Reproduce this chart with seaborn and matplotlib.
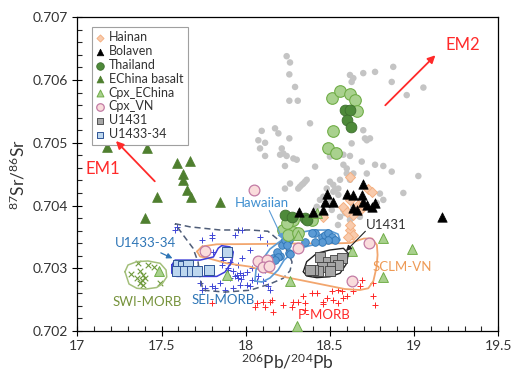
import numpy as np
import pandas as pd
import matplotlib
matplotlib.use("Agg")
import matplotlib.pyplot as plt
import seaborn as sns
from matplotlib.ticker import MultipleLocator, FuncFormatter

# ---------------- data ----------------
gray_x = [18.243, 18.263, 18.259, 18.293, 18.259, 18.309, 18.382, 18.174, 18.194, 18.095,
          18.075, 18.115, 18.085, 18.115, 18.259, 18.214, 18.223, 18.204, 18.243, 18.283,
          18.303, 18.233, 18.412, 18.619, 18.639, 18.629, 18.698, 18.768, 18.876, 18.867,
          18.956, 19.055, 18.698, 18.708, 18.719, 18.738, 18.629, 18.619, 18.689, 18.768,
          18.817, 18.867, 18.719, 18.580, 18.600, 18.600, 18.639, 19.025, 18.936, 18.500,
          18.520, 18.530, 18.550, 18.362, 18.342, 18.322, 18.263, 18.233, 18.500, 18.580,
          18.511, 18.619, 18.797, 18.817, 18.441, 18.461, 18.481, 18.352, 18.333, 18.520,
          18.600, 18.778, 18.748, 18.639, 18.619, 18.500, 18.580, 18.590, 18.312, 18.560,
          18.550, 18.580, 18.560, 18.511, 18.471, 18.422, 18.619, 18.678, 18.548]
gray_y = [0.70638, 0.70628, 0.70609, 0.70589, 0.70567, 0.70567, 0.70531, 0.70523, 0.70515, 0.70519,
          0.70504, 0.70500, 0.70491, 0.70479, 0.70507, 0.70491, 0.70483, 0.70481, 0.70479, 0.70475,
          0.70473, 0.70463, 0.70462, 0.70608, 0.70603, 0.70597, 0.70611, 0.70613, 0.70621, 0.70597,
          0.70576, 0.70588, 0.70520, 0.70507, 0.70504, 0.70507, 0.70499, 0.70479, 0.70470, 0.70465,
          0.70463, 0.70454, 0.70451, 0.70465, 0.70459, 0.70451, 0.70451, 0.70447, 0.70420, 0.70438,
          0.70433, 0.70425, 0.70427, 0.70441, 0.70435, 0.70430, 0.70435, 0.70427, 0.70478, 0.70481,
          0.70486, 0.70441, 0.70419, 0.70409, 0.70409, 0.70414, 0.70427, 0.70438, 0.70433, 0.70422,
          0.70414, 0.70404, 0.70396, 0.70398, 0.70390, 0.70404, 0.70396, 0.70388, 0.70427, 0.70441,
          0.70417, 0.70393, 0.70382, 0.70393, 0.70385, 0.70398, 0.70377, 0.70382, 0.70369]

lgreen_x = [18.511, 18.560, 18.619, 18.649, 18.663, 18.520, 18.491, 18.536,
            18.283, 18.223, 18.283, 18.253, 18.312, 18.392, 18.243]
lgreen_y = [0.70571, 0.70583, 0.70578, 0.70568, 0.70550, 0.70518, 0.70491, 0.70484,
            0.70377, 0.70361, 0.70358, 0.70353, 0.70356, 0.70377, 0.70372]

thai_x = [18.590, 18.619, 18.603, 18.625, 18.233, 18.273, 18.352, 18.362]
thai_y = [0.70552, 0.70553, 0.70536, 0.70525, 0.70385, 0.70382, 0.70380, 0.70377]

echina_x = [17.175, 17.416, 17.594, 17.669, 17.626, 17.626, 17.653, 17.673, 17.471, 17.847, 17.402]
echina_y = [0.70494, 0.70491, 0.70467, 0.70471, 0.70451, 0.70440, 0.70425, 0.70414, 0.70414, 0.70406, 0.70380]

cpxe_x = [18.817, 18.986, 18.629, 18.817, 18.263, 18.303, 17.483, 17.887, 18.422, 18.312]
cpxe_y = [0.70349, 0.70330, 0.70328, 0.70286, 0.70279, 0.70208, 0.70296, 0.70289, 0.70388, 0.70353]

bolaven_x = [18.698, 18.600, 18.639, 18.689, 18.481, 18.471, 18.520, 18.698, 18.719, 18.768,
             18.748, 18.639, 18.401, 18.461, 18.659, 18.318, 19.164]
bolaven_y = [0.70435, 0.70419, 0.70417, 0.70417, 0.70419, 0.70406, 0.70406, 0.70406, 0.70401, 0.70404,
             0.70398, 0.70396, 0.70390, 0.70393, 0.70393, 0.70390, 0.70382]

hainan_x = [18.619, 18.728, 18.748, 18.619, 18.669, 18.678, 18.639, 18.580, 18.600, 18.619,
            18.639, 18.610, 18.461, 18.619, 18.689]
hainan_y = [0.70446, 0.70427, 0.70422, 0.70409, 0.70401, 0.70393, 0.70385, 0.70397, 0.70390, 0.70361,
            0.70353, 0.70350, 0.70382, 0.70369, 0.70401]

cpxvn_x = [18.049, 17.758, 18.075, 18.125, 18.105, 18.140, 18.312, 18.734, 18.629]
cpxvn_y = [0.70424, 0.70327, 0.70311, 0.70313, 0.70302, 0.70304, 0.70332, 0.70341, 0.70280]

haw_x = [18.412, 18.451, 18.471, 18.491, 18.511, 18.530, 18.491, 18.451, 18.412, 18.352,
         18.259, 18.259, 18.204, 18.164, 18.184, 18.214, 18.233, 18.194, 18.243, 18.174,
         18.263, 18.392]
haw_y = [0.70356, 0.70350, 0.70353, 0.70356, 0.70350, 0.70345, 0.70345, 0.70342, 0.70342, 0.70342,
         0.70345, 0.70324, 0.70320, 0.70316, 0.70326, 0.70337, 0.70345, 0.70318, 0.70337, 0.70313,
         0.70322, 0.70356]

u1431_x = [18.441, 18.491, 18.530, 18.570, 18.550, 18.500, 18.451, 18.431, 18.500, 18.401, 18.382]
u1431_y = [0.70318, 0.70310, 0.70313, 0.70316, 0.70305, 0.70302, 0.70302, 0.70295, 0.70295, 0.70298, 0.70297]

u1433_x = [17.600, 17.630, 17.659, 17.590, 17.640, 17.679, 17.709, 17.784, 17.887]
u1433_y = [0.70305, 0.70303, 0.70305, 0.70295, 0.70295, 0.70296, 0.70296, 0.70297, 0.70326]

swi_x = [17.317, 17.372, 17.422, 17.455, 17.353, 17.382, 17.402, 17.372, 17.392, 17.491, 17.362, 17.392]
swi_y = [0.70291, 0.70295, 0.70305, 0.70302, 0.70284, 0.70281, 0.70284, 0.70276, 0.70273, 0.70276, 0.70308, 0.70289]

sei_x = [17.739, 17.798, 17.956, 18.026, 17.976, 18.036, 17.925, 17.947, 17.966, 17.986,
         18.006, 17.956, 17.907, 17.937, 17.895, 17.972, 17.857, 17.897, 17.907, 17.857,
         17.729, 17.758, 17.798, 17.847, 17.877, 17.926, 17.966, 18.026, 18.065, 17.580,
         17.798, 17.937, 17.976, 18.125, 17.956, 18.036, 18.075, 18.115, 18.105, 18.006,
         17.818, 17.739, 18.144, 18.134, 17.808, 17.867, 17.709, 17.739, 17.590, 18.085]
sei_y = [0.70345, 0.70348, 0.70361, 0.70329, 0.70316, 0.70300, 0.70295, 0.70289, 0.70292, 0.70290,
         0.70294, 0.70284, 0.70284, 0.70287, 0.70297, 0.70283, 0.70305, 0.70300, 0.70310, 0.70318,
         0.70276, 0.70268, 0.70271, 0.70276, 0.70265, 0.70268, 0.70273, 0.70271, 0.70279, 0.70361,
         0.70353, 0.70353, 0.70361, 0.70340, 0.70305, 0.70281, 0.70287, 0.70297, 0.70279, 0.70273,
         0.70268, 0.70265, 0.70265, 0.70271, 0.70326, 0.70313, 0.70300, 0.70332, 0.70366, 0.70350]

pmorb_x = [18.392, 18.422, 18.511, 18.550, 18.570, 18.600, 18.639, 18.678, 18.754, 18.758,
           18.768, 18.481, 18.461, 18.461, 18.520, 18.550, 18.580, 18.342, 18.312, 18.352,
           18.283, 18.273, 18.223, 18.144, 18.154, 18.105, 18.115, 18.065, 18.164, 18.352,
           17.798, 18.055, 18.693, 18.648]
pmorb_y = [0.70260, 0.70261, 0.70263, 0.70265, 0.70263, 0.70255, 0.70263, 0.70271, 0.70276, 0.70255,
           0.70241, 0.70252, 0.70247, 0.70243, 0.70249, 0.70244, 0.70252, 0.70255, 0.70247, 0.70244,
           0.70247, 0.70239, 0.70241, 0.70247, 0.70250, 0.70247, 0.70239, 0.70244, 0.70231, 0.70233,
           0.70244, 0.70239, 0.70281, 0.70278]

# field outlines (closed)
swi_field_x = [17.283, 17.301, 17.353, 17.420, 17.492, 17.527, 17.531, 17.503, 17.471, 17.408, 17.353, 17.307, 17.283]
swi_field_y = [0.702945, 0.703052, 0.703105, 0.703116, 0.703079, 0.702972, 0.702861, 0.702749, 0.702693,
               0.702669, 0.702681, 0.702749, 0.702945]

sei_field_x = [17.580, 17.669, 17.847, 18.026, 18.132, 18.204, 18.251, 18.275, 18.263, 18.222,
               18.144, 18.026, 17.877, 17.746, 17.729, 17.717, 17.687, 17.634, 17.580]
sei_field_y = [0.70371, 0.70366, 0.70361, 0.70361, 0.70359, 0.70343, 0.70326, 0.70310, 0.70296, 0.70284,
               0.70275, 0.70265, 0.70262, 0.70265, 0.70286, 0.70310, 0.70332, 0.70351, 0.70371]

u1433_field_x = [17.561, 17.580, 17.729, 17.808, 17.837, 17.857, 17.907, 17.926, 17.917, 17.877,
                 17.828, 17.729, 17.590, 17.561, 17.561]
u1433_field_y = [0.70305, 0.70313, 0.70313, 0.70318, 0.70332, 0.70336, 0.70334, 0.70326, 0.70310, 0.70294,
                 0.70287, 0.70287, 0.70287, 0.70292, 0.70305]

sclm_field_x = [17.711, 17.740, 17.828, 18.085, 18.322, 18.500, 18.619, 18.702, 18.750, 18.779,
                18.783, 18.777, 18.758, 18.728, 18.678, 18.589, 18.520, 18.322, 18.223, 18.125,
                18.026, 17.887, 17.778, 17.729, 17.711]
sclm_field_y = [0.703267, 0.703347, 0.703382, 0.703387, 0.703395, 0.703395, 0.703403, 0.703474, 0.703474, 0.703371,
                0.703211, 0.703020, 0.702797, 0.702681, 0.702653, 0.702669, 0.702706, 0.702813, 0.702865, 0.702945,
                0.703025, 0.703079, 0.703159, 0.703187, 0.703267]

haw_field_x = [18.055, 18.061, 18.097, 18.144, 18.222, 18.305, 18.400, 18.489, 18.548, 18.560,
               18.518, 18.441, 18.352, 18.281, 18.228, 18.192, 18.144, 18.097, 18.055]
haw_field_y = [0.702797, 0.702972, 0.703131, 0.703306, 0.703466, 0.703561, 0.703609, 0.703609, 0.703545, 0.703450,
               0.703403, 0.703403, 0.703339, 0.703259, 0.703131, 0.702972, 0.702845, 0.702781, 0.702797]

u1431_field_x = [18.342, 18.362, 18.422, 18.500, 18.580, 18.609, 18.600, 18.560, 18.500, 18.422, 18.362, 18.342]
u1431_field_y = [0.702945, 0.703105, 0.703238, 0.703291, 0.703318, 0.703238, 0.703079, 0.702920, 0.702865,
                 0.702850, 0.702877, 0.702945]

# ---------------- style ----------------
sns.set_theme(style="white")
plt.rcParams['font.family'] = ['Lato', 'DejaVu Sans']
plt.rcParams['mathtext.default'] = 'regular'

fig = plt.figure(figsize=(5.13, 3.76), dpi=100)
ax = fig.add_axes([0.1507, 0.1197, 0.8207, 0.8343])


def pts(x, y):
    return pd.DataFrame({"Pb": x, "Sr": y})


def scat(x, y, **kw):
    sns.scatterplot(data=pts(x, y), x="Pb", y="Sr", ax=ax, legend=False, **kw)
    return ax.collections[-1]


# background compilation
scat(gray_x, gray_y, marker="o", s=22, color="#c4c4c4", edgecolor="none", zorder=1)

# MORB crosses
scat(swi_x, swi_y, marker="x", s=16, color="#6f9a3c", linewidth=0.8, zorder=2)
scat(sei_x, sei_y, marker="+", s=22, color="#3f46d6", linewidth=0.7, zorder=2)
scat(pmorb_x, pmorb_y, marker="+", s=22, color="#ff2626", linewidth=0.7, zorder=2)

# fields
ax.plot(swi_field_x, swi_field_y, color="#a3bf7a", lw=1.1, zorder=2)
ax.plot(sei_field_x, sei_field_y, color="#4f5d78", lw=1.1, ls=(0, (4, 2.5)), zorder=2)
ax.plot(sclm_field_x, sclm_field_y, color="#f2a66e", lw=1.3, zorder=2)
ax.plot(haw_field_x, haw_field_y, color="#5b9bd5", lw=1.2, zorder=2)
ax.plot(u1433_field_x, u1433_field_y, color="#3d3dd8", lw=1.1, zorder=4)
ax.plot(u1431_field_x, u1431_field_y, color="#222222", lw=1.0, zorder=4)

# sample groups
scat(haw_x, haw_y, marker="o", s=30, color="#5b9bd5", edgecolor="#2e75b6", linewidth=0.6, zorder=3)
scat(lgreen_x, lgreen_y, marker="o", s=70, color="#a9d18e", edgecolor="#70ad47", linewidth=0.8, zorder=3)
h_thai = scat(thai_x, thai_y, marker="o", s=60, color="#4e8a3a", edgecolor="#3d6e2e", linewidth=0.6, zorder=3)
h_cpxvn = scat(cpxvn_x, cpxvn_y, marker="o", s=60, color="#fadcdc", edgecolor="#c27aa4", linewidth=0.9, zorder=3)
h_hainan = scat(hainan_x, hainan_y, marker="D", s=26, color="#f8cbad", edgecolor="#f4b183", linewidth=0.7, zorder=3)
h_bol = scat(bolaven_x, bolaven_y, marker="^", s=46, color="black", edgecolor="black", linewidth=0.5, zorder=4)
h_ech = scat(echina_x, echina_y, marker="^", s=50, color="#4f7f2f", edgecolor="#4f7f2f", linewidth=0.5, zorder=3)
h_cpxe = scat(cpxe_x, cpxe_y, marker="^", s=50, color="#a9d18e", edgecolor="#70ad47", linewidth=0.7, zorder=3)
h_u1431 = scat(u1431_x, u1431_y, marker="s", s=48, color="#a6a6a6", edgecolor="#404040", linewidth=0.6, zorder=5)
h_u1433 = scat(u1433_x, u1433_y, marker="s", s=48, color="#bdd7ee", edgecolor="#2f5597", linewidth=0.7, zorder=5)

# end-member arrows and field labels
red = "#ff2a2a"
ax.annotate("", xy=(17.218, 0.70506), xytext=(17.4715, 0.704354),
            arrowprops=dict(arrowstyle="-|>", color=red, lw=1.3, mutation_scale=11), zorder=6)
ax.annotate("", xy=(19.138, 0.706426), xytext=(18.817, 0.705566),
            arrowprops=dict(arrowstyle="-|>", color=red, lw=1.3, mutation_scale=11), zorder=6)
ax.text(17.153, 0.70458, "EM1", color=red, fontsize=12, ha="center", va="center")
ax.text(19.29, 0.70656, "EM2", color=red, fontsize=12, ha="center", va="center")

ax.annotate("", xy=(18.227, 0.70342), xytext=(18.133, 0.70396),
            arrowprops=dict(arrowstyle="-|>", color="#5b9bd5", lw=0.8, mutation_scale=8), zorder=6)
ax.text(18.095, 0.70404, "Hawaiian", color="#3f8fd0", fontsize=9.5, ha="center", va="center")

ax.annotate("", xy=(17.58, 0.70314), xytext=(17.481, 0.703264),
            arrowprops=dict(arrowstyle="-|>", color="#2e75b6", lw=0.9, mutation_scale=8), zorder=6)
ax.text(17.402, 0.70340, "U1433-34", color="#2e75b6", fontsize=9.5, ha="center", va="center")

ax.annotate("", xy=(18.584, 0.703243), xytext=(18.722, 0.703621),
            arrowprops=dict(arrowstyle="-|>", color="#222222", lw=0.8, mutation_scale=8), zorder=6)
ax.text(18.833, 0.703689, "U1431", color="#333333", fontsize=9.5, ha="center", va="center")

ax.text(17.417, 0.702467, "SWI-MORB", color="#76933c", fontsize=9.5, ha="center", va="center")
ax.text(17.865, 0.702494, "SEI-MORB", color="#2e75b6", fontsize=9.5, ha="center", va="center")
ax.text(18.465, 0.702255, "P-MORB", color=red, fontsize=9.5, ha="center", va="center")
ax.text(18.928, 0.703022, "SCLM-VN", color="#ee9a55", fontsize=9.5, ha="center", va="center")

# axes
ax.set_xlim(17, 19.5)
ax.set_ylim(0.702, 0.707)
ax.xaxis.set_major_locator(MultipleLocator(0.5))
ax.xaxis.set_minor_locator(MultipleLocator(0.1))
ax.yaxis.set_major_locator(MultipleLocator(0.001))
ax.yaxis.set_minor_locator(MultipleLocator(0.0002))
ax.xaxis.set_major_formatter(FuncFormatter(lambda v, p: f"{v:g}"))
ax.yaxis.set_major_formatter(FuncFormatter(lambda v, p: f"{v:.3f}"))
ax.tick_params(which="major", direction="inout", length=7, width=0.8, colors="black",
               labelcolor="#333333", labelsize=10, bottom=True, left=True, top=False, right=False, pad=3)
ax.tick_params(which="minor", direction="in", length=3.5, width=0.8, bottom=True, left=True,
               top=False, right=False)
for sp in ax.spines.values():
    sp.set_color("black")
    sp.set_linewidth(0.9)

ax.set_xlabel(r"$^{206}$Pb/$^{204}$Pb", fontsize=12.5, color="#333333", labelpad=0)
ax.set_ylabel(r"$^{87}$Sr/$^{86}$Sr", fontsize=12.5, color="#333333", labelpad=4)

handles = [h_hainan, h_bol, h_thai, h_ech, h_cpxe, h_cpxvn, h_u1431, h_u1433]
labels = ["Hainan", "Bolaven", "Thailand", "EChina basalt", "Cpx_EChina", "Cpx_VN", "U1431", "U1433-34"]
leg = ax.legend(handles, labels, loc="upper left", bbox_to_anchor=(0.02, 0.99), fontsize=9,
                frameon=True, fancybox=False, edgecolor="#a0a0a0", framealpha=1,
                handlelength=0.6, handletextpad=0.4, labelspacing=0.15, borderpad=0.35,
                markerscale=0.7)
leg.get_frame().set_linewidth(0.8)
for t in leg.get_texts():
    t.set_color("#333333")

fig.savefig("out.png", dpi=100)
